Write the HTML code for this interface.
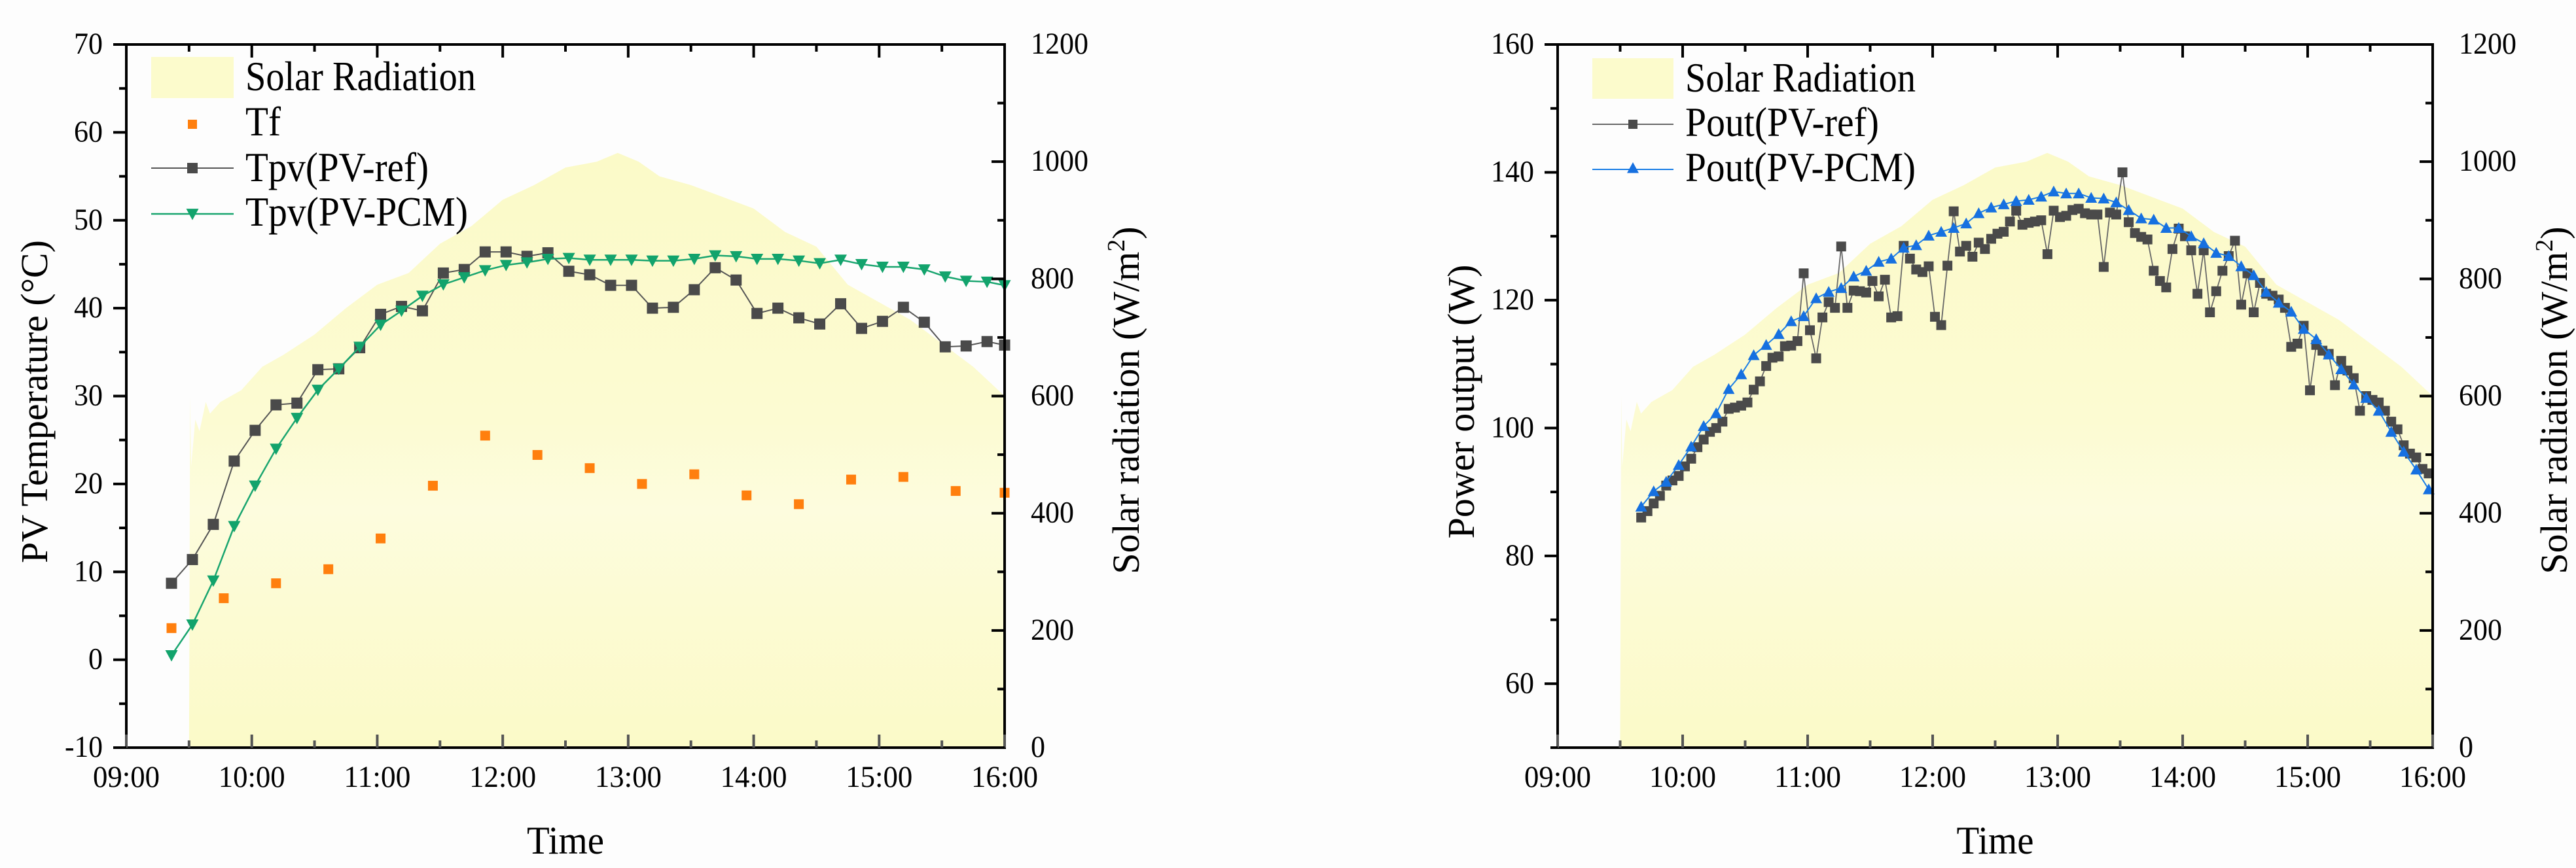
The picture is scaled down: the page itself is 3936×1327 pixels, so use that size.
<!DOCTYPE html>
<html><head><meta charset="utf-8"><style>
html,body{margin:0;padding:0;background:#fdfdfd}
svg{display:block}
text{font-family:"Liberation Serif",serif;fill:#000}
</style></head><body>
<svg id="fig" width="3936" height="1327" viewBox="0 0 3936 1327" xmlns="http://www.w3.org/2000/svg" font-family="Liberation Serif, serif">
<defs>
<linearGradient id="solarGrad" x1="0" y1="0" x2="0" y2="1">
<stop offset="0" stop-color="#fbfac8"/>
<stop offset="0.45" stop-color="#fcfbd2"/>
<stop offset="0.6" stop-color="#fdfcde"/>
<stop offset="0.75" stop-color="#fcfbd4"/>
<stop offset="1" stop-color="#fbfac8"/>
</linearGradient>
</defs>
<rect x="0" y="0" width="3936" height="1327" fill="#fdfdfd"/>
<g id="left"></g>
<g id="right"></g>
</svg>
<script>
// ---- Solar radiation (minutes after 09:00, W/m2) ----
const solarTimes = [30,30.5,31,33,35,38,40,45,50,55,60,65,75,90,105,120,135,150,165,180,195,210,225,235,245,255,270,285,300,315,330,345,360,375,390,405,420];
const solarValues = [0,600,480,560,540,590,570,590,600,610,630,650,670,705,750,790,810,860,890,935,960,990,1000,1015,1000,975,960,940,920,880,855,790,760,730,690,650,600];
// ---- Left chart data ----
const tfTimes = [21.6,46.6,71.6,96.6,121.6,146.6,171.6,196.6,221.6,246.6,271.6,296.6,321.6,346.6,371.6,396.6,420];
const tfValues = [3.6,7.0,8.7,10.3,13.8,19.8,25.5,23.3,21.8,20.0,21.1,18.7,17.7,20.5,20.8,19.2,19.0];
const tpvRefValues = [8.7,11.4,15.4,22.6,26.1,29.0,29.2,33.0,33.1,35.5,39.3,40.2,39.7,44.0,44.4,46.4,46.4,45.9,46.3,44.2,43.8,42.6,42.6,40.0,40.1,42.1,44.6,43.2,39.4,40.0,38.9,38.2,40.5,37.7,38.5,40.1,38.4,35.6,35.7,36.2,35.8];
const tpvPcmValues = [0.5,4.0,9.0,15.2,19.8,24.0,27.5,30.7,33.1,35.6,38.1,39.7,41.4,42.7,43.5,44.3,44.9,45.2,45.6,45.7,45.5,45.5,45.5,45.4,45.4,45.6,46.0,45.9,45.6,45.6,45.4,45.1,45.5,45.0,44.7,44.7,44.4,43.6,43.1,43.0,42.6];
const tempStart = 21.6, tempStep = 10;
const leftYTicks = [-10,0,10,20,30,40,50,60,70];
const radTicks = [0,200,400,600,800,1000,1200];
const timeTickLabels = ["09:00","10:00","11:00","12:00","13:00","14:00","15:00","16:00"];
// ---- Right chart data ----
const poutRefValues = [86.0,87.0,88.2,89.4,91.0,91.8,92.5,94.0,95.2,97.0,98.2,99.4,100.0,101.0,103.0,103.2,103.5,104.0,106.0,107.3,109.7,111.0,111.2,112.8,112.9,113.6,124.2,115.3,110.9,117.3,119.7,118.8,128.4,118.8,121.5,121.4,121.2,123.0,120.6,123.2,117.3,117.5,128.5,126.5,124.8,124.4,125.3,117.4,116.1,125.4,133.9,127.6,128.5,126.8,129.0,128.0,129.6,130.4,130.7,132.3,134.0,131.8,132.1,132.3,132.5,127.2,134.0,133.0,133.2,134.1,134.3,133.6,133.4,133.4,125.2,133.7,133.4,140.0,132.2,130.5,129.9,129.5,124.6,123.0,122.0,128.0,131.2,130.0,127.8,121.0,127.8,118.1,121.4,124.6,126.9,129.3,119.3,124.2,118.1,122.7,121.0,120.7,120.1,118.8,112.7,113.2,116.0,105.9,113.0,112.1,111.6,106.7,110.5,109.0,107.8,102.7,105.0,104.4,104.0,102.7,101.0,99.8,97.3,96.0,95.4,93.6,92.9];
const poutPcmValues = [87.7,90.1,91.6,94.2,97.1,100.3,102.3,106.1,108.4,111.4,113.0,114.7,116.7,117.5,120.3,121.3,121.9,123.7,124.6,126.0,126.5,128.2,128.6,130.1,130.7,131.3,132.0,133.6,134.5,135.0,135.5,135.7,136.2,137.0,136.7,136.7,136.0,135.9,135.3,134.1,132.8,132.6,131.3,131.3,130.0,128.9,127.4,126.9,125.3,123.9,121.3,119.6,118.2,115.5,113.9,111.5,109.2,106.8,104.7,102.7,99.4,96.3,93.5,90.4];
const poutRefStart = 40.1, poutRefStep = 3;
const poutPcmStart = 40.1, poutPcmStep = 6;
const rightYTicks = [60,80,100,120,140,160];

const NS = "http://www.w3.org/2000/svg";
function mk(parent, tag, attrs){const e=document.createElementNS(NS,tag);for(const k in attrs)e.setAttribute(k,attrs[k]);parent.appendChild(e);return e;}
function txt(parent, s, x, y, size, anchor, len){const t=mk(parent,'text',{x:x,y:y,'font-size':size,'text-anchor':anchor||'start','font-family':'Liberation Serif, serif'});if(len){t.setAttribute('textLength',len);t.setAttribute('lengthAdjust','spacingAndGlyphs');}t.textContent=s;return t;}

function buildChart(g, c){
  const X = m => c.x0 + (m/420)*(c.x1-c.x0);
  const Y = v => c.y1 - (v-c.ymin)/(c.ymax-c.ymin)*(c.y1-c.y0);
  const R = v => c.y1 - v/1200*(c.y1-c.y0);
  let pts = solarTimes.map((t,i)=>X(t)+','+R(solarValues[i]));
  pts.push(X(420)+','+R(0)); pts.push(X(30)+','+R(0));
  const poly = mk(g,'polygon',{points:pts.join(' '),fill:'url(#solarGrad)'});
  
  
  c.draw(g,X,Y);
  const ax = mk(g,'g',{stroke:'#000','stroke-width':4,fill:'none'});
  
  
  mk(ax,'rect',{x:c.x0,y:c.y0,width:c.x1-c.x0,height:c.y1-c.y0});
  for(let h=0;h<=14;h++){
    const x=X(h*30), L=(h%2===0)?20:11;
    mk(ax,'line',{x1:x,y1:c.y1,x2:x,y2:c.y1-L,stroke:'#555'});
    mk(ax,'line',{x1:x,y1:c.y0,x2:x,y2:c.y0+L});
  }
  timeTickLabels.forEach((s,i)=>{
    const t=txt(g,s,X(i*60),1203,47,'middle',102);
    
    
  });
  const step=c.yTicks[1]-c.yTicks[0];
  for(let v=c.ymin; v<=c.ymax+0.01; v+=step/2){
    const y=Y(v), major=Math.abs(((v-c.yTicks[0])/step)%1)<0.01;
    if(y>c.y1+1) continue;
    mk(ax,'line',{x1:c.x0,y1:y,x2:c.x0-(major?20:11),y2:y});
  }
  c.yTicks.forEach(v=>{
    const s=String(v);
    const t=txt(g,s,c.x0-36,Y(v)+14,47,'end',s.replace('-','').length*22+(s[0]==='-'?14:0));
    
    
  });
  for(let v=0; v<=1200; v+=100){
    const y=R(v);
    mk(ax,'line',{x1:c.x1,y1:y,x2:c.x1-(v%200===0?20:11),y2:y});
  }
  radTicks.forEach(v=>{
    const t=txt(g,String(v),c.x1+40,R(v)+14,47,'start',String(v).length*22);
    
    
  });
  const tt=txt(g,'Time',(c.x0+c.x1)/2,1305,60,'middle',118);
  
  
  const yt=mk(g,'text',{x:0,y:0,'font-size':58,'text-anchor':'middle','font-family':'Liberation Serif, serif',transform:`translate(${c.ytX},614) rotate(-90)`});
  yt.textContent=c.ytitle;
  
  
  const rt=mk(g,'text',{x:0,y:0,'font-size':58,'text-anchor':'middle','font-family':'Liberation Serif, serif',transform:`translate(${c.rtX},612) rotate(-90)`});
  rt.innerHTML='Solar radiation (W/m<tspan dy="-22" font-size="38">2</tspan><tspan dy="22">)</tspan>';
  
  
}
function sq(g,x,y,s,fill){return mk(g,'rect',{x:x-s/2,y:y-s/2,width:s,height:s,fill:fill});}
function triDown(g,x,y,s,fill){return mk(g,'polygon',{points:`${x-s/2},${y-s/2.4} ${x+s/2},${y-s/2.4} ${x},${y+s/2}`,fill:fill});}
function triUp(g,x,y,s,fill){return mk(g,'polygon',{points:`${x-s/2},${y+s/2.4} ${x+s/2},${y+s/2.4} ${x},${y-s/2}`,fill:fill});}
function legendLabel(g,s,x,y,len){const t=txt(g,s,x,y,64,'start',len);}

buildChart(document.getElementById('left'),{
  x0:193,x1:1535,y0:68,y1:1143,ymin:-10,ymax:70,yTicks:leftYTicks,ytitle:'PV Temperature (°C)',ytX:72,rtX:1740,
  draw:(g,X,Y)=>{
    const tm=i=>Math.min(420,tempStart+tempStep*i);
    const ref=mk(g,'g',{});
    
    
    mk(ref,'polyline',{points:tpvRefValues.map((v,i)=>X(tm(i))+','+Y(v)).join(' '),fill:'none',stroke:'#555','stroke-width':2});
    tpvRefValues.forEach((v,i)=>{const r=sq(ref,X(tm(i)),Y(v),17,'#4a4a4a');});
    const pcm=mk(g,'g',{});
    
    
    mk(pcm,'polyline',{points:tpvPcmValues.map((v,i)=>X(tm(i))+','+Y(v)).join(' '),fill:'none',stroke:'#19a56f','stroke-width':2.5});
    tpvPcmValues.forEach((v,i)=>{const r=triDown(pcm,X(tm(i)),Y(v),19,'#12a36c');});
    const tf=mk(g,'g',{});
    
    
    tfValues.forEach((v,i)=>{const r=sq(tf,X(tfTimes[i]),Y(v),15,'#ff7f0e');});
    const lg=mk(g,'g',{});
    
    
    mk(lg,'rect',{x:231,y:87,width:126,height:63,fill:'#fcfbcc'});
    legendLabel(lg,'Solar Radiation',375,138,352);
    sq(lg,294,190,14,'#ff7f0e');
    legendLabel(lg,'Tf',375,207,54);
    mk(lg,'line',{x1:231,y1:257,x2:357,y2:257,stroke:'#555','stroke-width':2});
    sq(lg,294,257,16,'#4a4a4a');
    legendLabel(lg,'Tpv(PV-ref)',375,277,280);
    mk(lg,'line',{x1:231,y1:327,x2:357,y2:327,stroke:'#19a56f','stroke-width':2.5});
    triDown(lg,294,327,19,'#12a36c');
    legendLabel(lg,'Tpv(PV-PCM)',375,345,340);
  }
});
buildChart(document.getElementById('right'),{
  x0:2380,x1:3717,y0:68,y1:1143,ymin:50,ymax:160,yTicks:rightYTicks,ytitle:'Power output (W)',ytX:2252,rtX:3922,
  draw:(g,X,Y)=>{
    const ref=mk(g,'g',{});
    
    
    mk(ref,'polyline',{points:poutRefValues.map((v,i)=>X(Math.min(420,poutRefStart+poutRefStep*i))+','+Y(v)).join(' '),fill:'none',stroke:'#666','stroke-width':1.8});
    poutRefValues.forEach((v,i)=>{const r=sq(ref,X(Math.min(420,poutRefStart+poutRefStep*i)),Y(v),15,'#4a4a4a');});
    const pcm=mk(g,'g',{});
    
    
    mk(pcm,'polyline',{points:poutPcmValues.map((v,i)=>X(Math.min(420,poutPcmStart+poutPcmStep*i))+','+Y(v)).join(' '),fill:'none',stroke:'#1a7ee6','stroke-width':2});
    poutPcmValues.forEach((v,i)=>{const r=triUp(pcm,X(Math.min(420,poutPcmStart+poutPcmStep*i)),Y(v),18,'#1670e0');});
    const lg=mk(g,'g',{});
    
    
    mk(lg,'rect',{x:2433,y:89,width:124,height:62,fill:'#fcfbcc'});
    legendLabel(lg,'Solar Radiation',2575,140,352);
    mk(lg,'line',{x1:2433,y1:190,x2:2557,y2:190,stroke:'#666','stroke-width':2});
    sq(lg,2495,190,14,'#4a4a4a');
    legendLabel(lg,'Pout(PV-ref)',2575,208,296);
    mk(lg,'line',{x1:2433,y1:259,x2:2557,y2:259,stroke:'#1a7ee6','stroke-width':2});
    triUp(lg,2495,257,18,'#1670e0');
    legendLabel(lg,'Pout(PV-PCM)',2575,277,352);
  }
});
</script>
</body></html>
